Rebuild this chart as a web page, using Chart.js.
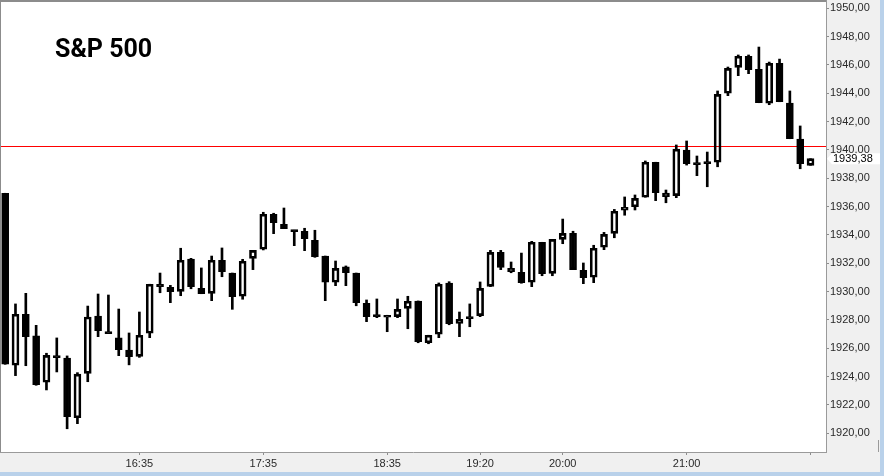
<!DOCTYPE html>
<html>
<head>
<meta charset="utf-8">
<script src="https://cdn.jsdelivr.net/npm/chart.js@4.4.1/dist/chart.umd.min.js"></script>
<style>
  html, body { margin: 0; padding: 0; }
  body { width: 884px; height: 476px; background: #b9d1ea; position: relative; overflow: hidden; }
  #wrap { position: absolute; left: 0; top: 0; width: 880px; height: 472px; background: #f0f0f0; }
  #grip { position: absolute; left: 878px; top: 440px; width: 1px; height: 12px; background: #9a9a9a; }
</style>
</head>
<body>
<div id="wrap"><canvas id="chart" width="880" height="472"></canvas></div>
<div id="grip"></div>
<script>
// S&P 500 - velas de 5 minutos, 15:30 a 22:00
const startMinutes = 15 * 60 + 30;
const opens = [
  1936.94, 1924.80, 1928.40, 1926.87, 1923.60, 1925.46, 1925.31, 1921.10, 1924.23, 1928.28,
  1927.15, 1926.73, 1925.88, 1925.43, 1927.06, 1930.52, 1930.30, 1930.02, 1932.30, 1930.23,
  1929.88, 1932.21, 1931.31, 1929.67, 1932.35, 1932.99, 1935.46, 1934.75, 1934.33, 1934.26,
  1933.62, 1932.51, 1930.66, 1931.74, 1931.31, 1929.17, 1928.33, 1928.33, 1928.23, 1928.82,
  1929.34, 1926.39, 1926.99, 1930.61, 1927.76, 1928.21, 1928.30, 1930.37, 1932.77, 1931.64,
  1931.36, 1930.66, 1933.48, 1931.29, 1933.69, 1934.11, 1931.50, 1931.01, 1933.13, 1934.11,
  1935.74, 1935.99, 1936.66, 1939.13, 1936.96, 1936.77, 1939.99, 1939.08, 1939.15, 1939.13,
  1944.00, 1945.83, 1946.61, 1945.69, 1943.29, 1946.11, 1943.31, 1940.77, 1938.91
];
const highs = [
  1936.94, 1929.13, 1929.88, 1927.62, 1925.65, 1926.73, 1925.46, 1924.28, 1928.98, 1929.83,
  1929.76, 1928.77, 1927.08, 1928.56, 1930.52, 1931.31, 1930.44, 1933.06, 1932.35, 1931.67,
  1932.51, 1933.08, 1931.31, 1932.28, 1932.91, 1935.60, 1935.53, 1935.90, 1934.33, 1934.47,
  1934.33, 1932.51, 1932.16, 1931.81, 1931.31, 1929.41, 1929.48, 1928.33, 1929.48, 1929.67,
  1929.34, 1926.92, 1930.61, 1930.70, 1928.56, 1929.13, 1930.68, 1932.91, 1932.91, 1932.09,
  1932.72, 1933.55, 1933.48, 1933.69, 1935.12, 1934.26, 1932.02, 1933.27, 1934.18, 1935.80,
  1936.68, 1936.82, 1939.22, 1939.13, 1937.17, 1940.35, 1940.63, 1939.57, 1939.85, 1944.16,
  1945.85, 1946.70, 1946.70, 1947.26, 1946.20, 1946.41, 1944.16, 1941.69, 1939.38
];
const lows = [
  1924.87, 1924.07, 1924.77, 1923.39, 1923.06, 1924.33, 1920.32, 1920.68, 1923.64, 1926.82,
  1927.03, 1925.48, 1924.83, 1925.36, 1926.75, 1929.92, 1929.22, 1929.71, 1930.20, 1929.85,
  1929.36, 1931.05, 1928.75, 1929.46, 1931.55, 1932.94, 1934.09, 1934.44, 1933.24, 1932.89,
  1932.42, 1929.36, 1930.42, 1930.42, 1929.00, 1927.88, 1928.16, 1927.17, 1928.16, 1927.38,
  1926.39, 1926.32, 1926.75, 1927.66, 1926.82, 1927.52, 1928.23, 1930.35, 1931.55, 1931.33,
  1930.59, 1930.35, 1931.12, 1931.12, 1933.38, 1931.55, 1930.56, 1930.63, 1932.96, 1933.80,
  1935.39, 1935.76, 1936.66, 1936.42, 1936.27, 1936.63, 1938.93, 1938.18, 1937.40, 1938.81,
  1943.83, 1945.24, 1945.38, 1943.33, 1943.19, 1943.40, 1940.79, 1938.67, 1938.91
];
const closes = [
  1924.87, 1928.40, 1926.82, 1923.43, 1925.50, 1925.34, 1921.17, 1924.18, 1928.21, 1927.24,
  1927.03, 1925.90, 1925.41, 1926.92, 1930.52, 1930.35, 1929.99, 1932.21, 1930.35, 1929.85,
  1932.21, 1931.40, 1929.64, 1932.14, 1932.91, 1935.46, 1934.86, 1934.44, 1934.23, 1933.73,
  1932.46, 1930.66, 1931.64, 1931.33, 1929.22, 1928.23, 1928.23, 1928.19, 1928.75, 1929.32,
  1926.46, 1926.92, 1930.52, 1927.73, 1928.05, 1928.09, 1930.23, 1932.77, 1931.71, 1931.40,
  1930.63, 1933.48, 1931.26, 1933.69, 1934.11, 1931.55, 1930.98, 1933.06, 1934.04, 1935.67,
  1935.95, 1936.58, 1939.13, 1936.98, 1936.70, 1940.06, 1939.03, 1938.96, 1939.03, 1943.92,
  1945.76, 1946.61, 1945.66, 1943.33, 1946.11, 1943.40, 1940.79, 1939.03, 1939.38
];
const tickTimes = ['16:35', '17:35', '18:35', '19:20', '20:00', '21:00', '22:00'];
const tickLabels = ['16:35', '17:35', '18:35', '19:20', '20:00', '21:00', ''];
const refLevel = 1940.28;
const yMin = 1918.68;
const yMax = 1950.58;

function hhmm(m) {
  const h = Math.floor(m / 60), mm = m % 60;
  return h + ':' + (mm < 10 ? '0' : '') + mm;
}
const times = opens.map((_, i) => hhmm(startMinutes + 5 * i));
const tickIdx = tickTimes.map(t => times.indexOf(t));

const bodies = opens.map((o, i) => ({ x: i, y: [o, closes[i]] }));
const upperWicks = opens.map((o, i) => ({ x: i, y: [Math.max(o, closes[i]), highs[i]] }));
const lowerWicks = opens.map((o, i) => ({ x: i, y: [lows[i], Math.min(o, closes[i])] }));
const bodyFill = opens.map((o, i) => closes[i] >= o ? 'rgba(0,0,0,0)' : '#000000');

const fmt = v => v.toFixed(2).replace('.', ',');

const chartDecor = {
  id: 'chartDecor',
  beforeDraw(chart) {
    const { ctx, chartArea: a } = chart;
    ctx.save();
    ctx.fillStyle = '#ffffff';
    ctx.fillRect(a.left, a.top, a.right - a.left, a.bottom - a.top);
    ctx.restore();
  },
  beforeDatasetsDraw(chart) {
    const { ctx, chartArea: a, scales: { y } } = chart;
    const yPos = Math.round(y.getPixelForValue(refLevel)) + 0.5;
    ctx.save();
    ctx.strokeStyle = '#ff0000';
    ctx.lineWidth = 1;
    ctx.beginPath();
    ctx.moveTo(a.left, yPos);
    ctx.lineTo(a.right, yPos);
    ctx.stroke();
    ctx.restore();
  },
  afterDraw(chart) {
    const { ctx, chartArea: a, scales: { y } } = chart;
    ctx.save();
    // marco superior e izquierdo
    ctx.fillStyle = '#8c8c8c';
    ctx.fillRect(a.left, 0, a.right - a.left, 2);
    ctx.fillRect(0, 0, 1, a.bottom);
    // titulo
    ctx.fillStyle = '#000000';
    ctx.font = 'bold 25px Roboto';
    ctx.textBaseline = 'alphabetic';
    ctx.fillText('S&P 500', 55, 57);
    // etiqueta del ultimo precio
    const last = closes[closes.length - 1];
    const py = y.getPixelForValue(last);
    ctx.fillStyle = '#ffffff';
    ctx.beginPath();
    ctx.moveTo(a.right + 1, py);
    ctx.lineTo(a.right + 6, py - 5.5);
    ctx.lineTo(880, py - 5.5);
    ctx.lineTo(880, py + 5.5);
    ctx.lineTo(a.right + 6, py + 5.5);
    ctx.closePath();
    ctx.fill();
    ctx.fillStyle = '#000000';
    ctx.font = '11px "Liberation Sans"';
    ctx.textBaseline = 'middle';
    ctx.fillText(fmt(last), a.right + 7, py + 0.5);
    ctx.restore();
  }
};

new Chart(document.getElementById('chart'), {
  type: 'bar',
  data: {
    datasets: [
      {
        data: bodies,
        backgroundColor: bodyFill,
        borderColor: '#000000',
        borderWidth: 2,
        borderSkipped: false,
        barThickness: 7,
        minBarLength: 2,
        grouped: false,
        order: 0
      },
      {
        data: upperWicks,
        backgroundColor: '#000000',
        borderWidth: 0,
        barThickness: 2,
        grouped: false,
        order: 1
      },
      {
        data: lowerWicks,
        backgroundColor: '#000000',
        borderWidth: 0,
        barThickness: 2,
        grouped: false,
        order: 2
      }
    ]
  },
  options: {
    responsive: false,
    animation: false,
    layout: { padding: 0 },
    plugins: {
      legend: { display: false },
      tooltip: { enabled: false },
      title: { display: false }
    },
    scales: {
      x: {
        type: 'linear',
        min: -0.5,
        max: 79.5,
        offset: false,
        afterBuildTicks(scale) {
          scale.ticks = tickIdx.map(v => ({ value: v }));
        },
        afterFit(scale) {
          scale.height = 20;
          scale.paddingLeft = 0;
          scale.paddingRight = 0;
        },
        ticks: {
          autoSkip: false,
          maxRotation: 0,
          padding: 2,
          color: '#2a2a2a',
          font: { family: '"Liberation Sans"', size: 11 },
          callback: (value, index) => tickLabels[index]
        },
        grid: { offset: false, drawOnChartArea: false, drawTicks: true, tickLength: 3, color: '#8c8c8c' },
        border: { display: true, color: '#9a9a9a', width: 1 }
      },
      y: {
        type: 'linear',
        position: 'right',
        min: yMin,
        max: yMax,
        afterFit(scale) {
          scale.width = 54;
          scale.paddingTop = 0;
          scale.paddingBottom = 0;
        },
        ticks: {
          stepSize: 2,
          includeBounds: false,
          padding: 1,
          color: '#2a2a2a',
          font: { family: '"Liberation Sans"', size: 11 },
          callback: v => fmt(v)
        },
        grid: { drawOnChartArea: false, drawTicks: true, tickLength: 3, color: '#8c8c8c' },
        border: { display: true, color: '#9a9a9a', width: 1 }
      }
    }
  },
  plugins: [chartDecor]
});
</script>
</body>
</html>
